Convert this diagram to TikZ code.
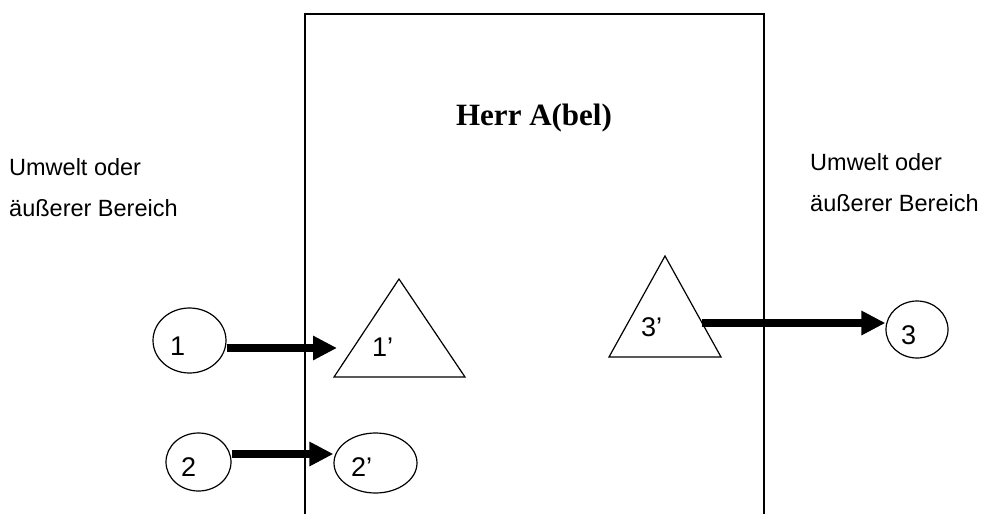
\documentclass[tikz,border=0pt]{standalone}
\usepackage{fontspec}
\setmainfont{Liberation Serif}
\setsansfont{Liberation Sans}
\usetikzlibrary{shapes.geometric,arrows.meta}

\tikzset{
  circ/.style={draw, ellipse, line width=1.2pt, inner sep=0pt},
  tri/.style={draw, line width=1.2pt, line join=miter},
  flow/.style={line width=7.5pt, -{Triangle[length=24pt,width=23pt]}},
  digit/.style={font=\sffamily\fontsize{27}{27}\selectfont, inner sep=0pt, anchor=base west},
  side/.style={font=\sffamily\fontsize{23.5}{41}\selectfont, inner sep=0pt, anchor=base west, align=left},
}

\begin{document}
\begin{tikzpicture}[x=1pt, y=-1pt]
\useasboundingbox (0,0) rectangle (984,514);

% the open-bottomed frame around Herr A(bel)
\draw[line width=1.5pt] (305,514) -- (305,14) -- (764,14) -- (764,514);
\node[font=\bfseries\fontsize{31}{31}\selectfont, inner sep=0pt, anchor=base] (title) at (534,125) {Herr A(bel)};

% outer regions (anchored at the baseline of the second line)
\node[side] (envL) at (9,216) {Umwelt oder\\äußerer Bereich};
\node[side] (envR) at (810,211) {Umwelt oder\\äußerer Bereich};

% outer elements
\node[circ, minimum width=73pt, minimum height=65pt] (e1) at (189.5,340.5) {};
\node[circ, minimum width=65pt, minimum height=58pt] (e2) at (198.5,462) {};
\node[circ, minimum width=62pt, minimum height=57pt] (e3) at (917,329.5) {};
\node[digit] (t1) at (170,355) {1};
\node[digit] (t2) at (181,476) {2};
\node[digit] (t3) at (901,344) {3};

% inner elements
\node[circ, minimum width=83pt, minimum height=60pt] (e2p) at (375.5,463) {};
\node[digit] (t2p) at (351,476) {2’};
\draw[tri] (399,279) -- (465,377) -- (334,377) -- cycle;
\node[digit] (t1p) at (372,356) {1’};
\draw[tri] (665,256) -- (721,357) -- (609,357) -- cycle;
\node[digit] (t3p) at (641,336) {3’};

% connectors
\coordinate (tip1) at (337,348);
\coordinate (tip2) at (334,454);
\coordinate (src3) at (702,323);
\draw[flow] (e1.east |- tip1) -- (tip1);
\draw[flow] (e2.east |- tip2) -- (e2p.west |- tip2);
\draw[flow] (src3) -- (e3.west |- src3);
\end{tikzpicture}
\end{document}
